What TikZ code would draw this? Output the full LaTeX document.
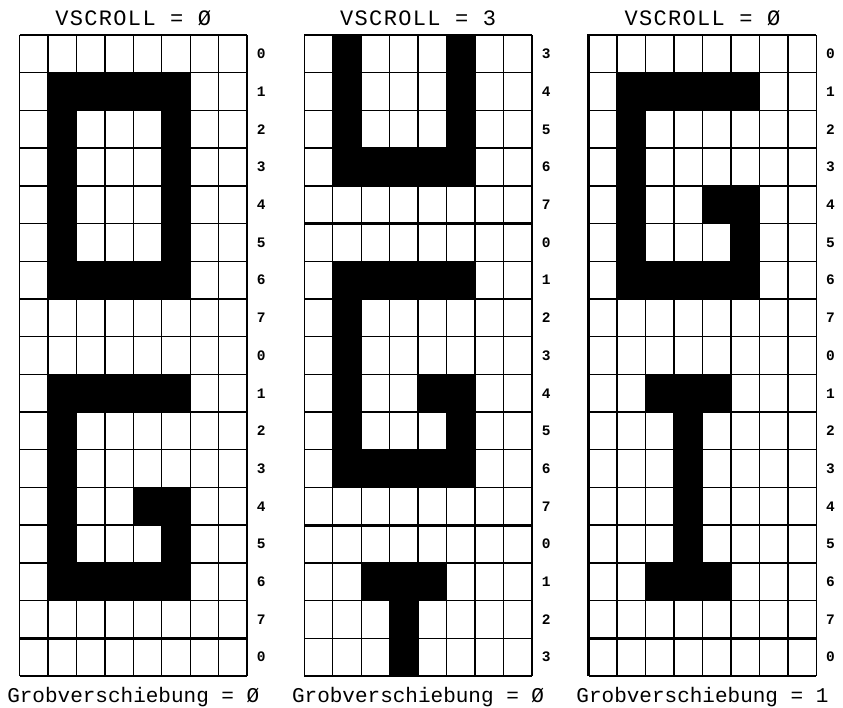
\documentclass[tikz,border=0pt]{standalone}
\usepackage{fontspec}
\newfontfamily\monofont{Liberation Mono}
\newfontfamily\titlefont[LetterSpace=6]{Liberation Mono}
\newfontfamily\labfont{Liberation Mono}
\tikzset{
  cellline/.style={line width=1.4pt},
  thickline/.style={line width=2.8pt},
  rowlab/.style={anchor=base, font=\labfont\bfseries\fontsize{14.5}{14.5}\selectfont, inner sep=0pt},
  titletext/.style={anchor=base, font=\titlefont\fontsize{22}{22}\selectfont, inner sep=0pt},
  bottext/.style={anchor=base, font=\monofont\fontsize{21}{21}\selectfont, inner sep=0pt},
  cellfill/.style={fill=black}
}
\newcommand{\pixgrid}[6]{%
  % #1 x origin, #2 name, #3 black cells c/r, #4 labels, #5 thick rows, #6 title value
  \begin{scope}[shift={(#1,35)}]
  \begin{scope}[x=28.45pt,y=-37.7pt]
    \foreach \c/\r in {#3} {\fill[cellfill] (\c,\r) rectangle ++(1,1);}
    \foreach \i in {0,...,8} {\draw[cellline] (\i,0) -- (\i,17);}
    \foreach \j in {0,...,17} {\draw[cellline] (0,\j) -- (8,\j);}
    \foreach \j in {#5} {\draw[thickline] (0,\j) -- (8,\j);}
    \foreach \l [count=\k from 0] in {#4} {\node[rowlab] (#2lab\k) at (8.5,\k+0.63) {\l};}
    \node[titletext] (#2title) at (4,-0.265) {VSCROLL = #6};
  \end{scope}
  \end{scope}
}
\begin{document}
\begin{tikzpicture}[x=1pt,y=-1pt]
\useasboundingbox[fill=white] (0,0) rectangle (843,707);
% Grid 1
\pixgrid{19.5}{ga}{1/1,2/1,3/1,4/1,5/1,1/2,5/2,1/3,5/3,1/4,5/4,1/5,5/5,1/6,2/6,3/6,4/6,5/6,
  1/9,2/9,3/9,4/9,5/9,1/10,1/11,1/12,4/12,5/12,1/13,5/13,1/14,2/14,3/14,4/14,5/14}
  {0,1,2,3,4,5,6,7,0,1,2,3,4,5,6,7,0}{16}{Ø}
% Grid 2
\pixgrid{304.3}{gb}{1/0,5/0,1/1,5/1,1/2,5/2,1/3,2/3,3/3,4/3,5/3,
  1/6,2/6,3/6,4/6,5/6,1/7,1/8,1/9,4/9,5/9,1/10,5/10,1/11,2/11,3/11,4/11,5/11,
  2/14,3/14,4/14,3/15,3/16}
  {3,4,5,6,7,0,1,2,3,4,5,6,7,0,1,2,3}{5,13}{3}
% Grid 3
\pixgrid{588.7}{gc}{1/1,2/1,3/1,4/1,5/1,1/2,1/3,1/4,4/4,5/4,1/5,5/5,1/6,2/6,3/6,4/6,5/6,
  2/9,3/9,4/9,3/10,3/11,3/12,3/13,2/14,3/14,4/14}
  {0,1,2,3,4,5,6,7,0,1,2,3,4,5,6,7,0}{16}{Ø}
\draw[thickline] (588.7,675.9) -- (588.7,35) -- (816.3,35);
% bottom texts
\node[bottext] (ba) at (133.3,702.5) {Grobverschiebung = Ø};
\node[bottext] (bb) at (418.1,702.5) {Grobverschiebung = Ø};
\node[bottext] (bc) at (702.5,702.5) {Grobverschiebung = 1};
\end{tikzpicture}
\end{document}
